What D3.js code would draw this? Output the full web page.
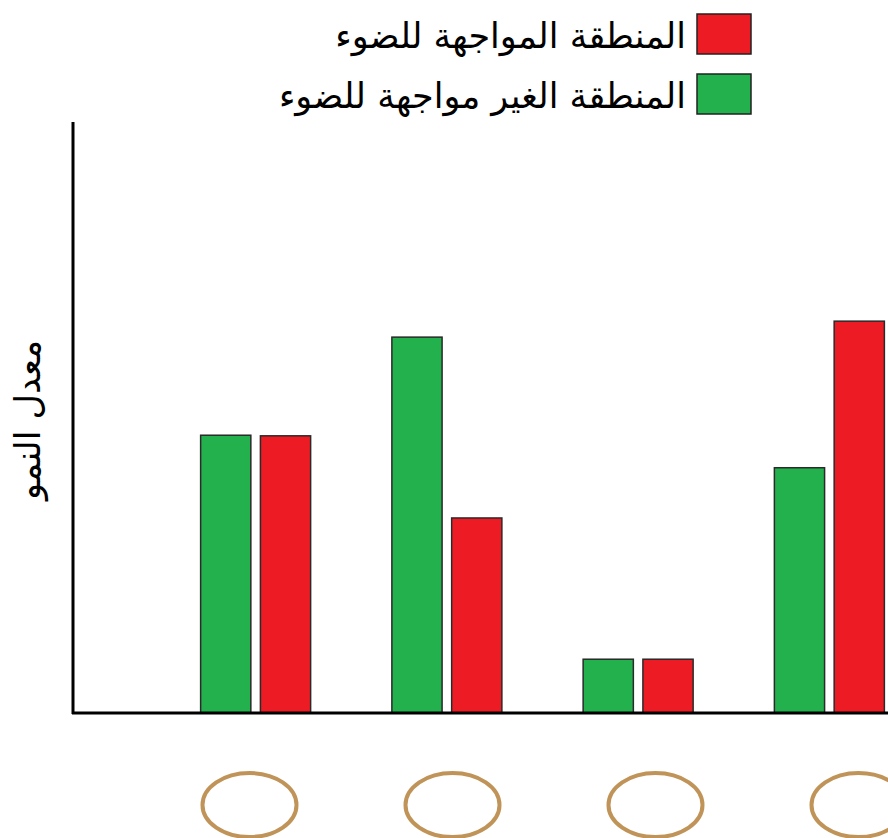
<!DOCTYPE html>
<html><head><meta charset="utf-8">
<script src="https://cdn.jsdelivr.net/npm/d3@7"></script>
<style>html,body{margin:0;padding:0;background:#fff;}svg{display:block;}</style>
</head><body>
<script>
const categories = ["1", "2", "3", "4"];
const seriesKeys = ["shaded", "lit"];
const seriesLabels = ["المنطقة الغير مواجهة للضوء", "المنطقة المواجهة للضوء"];
const shadedValues = [4.70, 6.36, 0.91, 4.15];
const litValues = [4.69, 3.30, 0.91, 6.63];
const yLabel = "معدل النمو";

const W = 888, H = 838;
const colors = {shaded: "#22b14c", lit: "#ed1c24"};
const rows = categories.map((c, i) => ({cat: c, shaded: shadedValues[i], lit: litValues[i]}));

const svg = d3.select("body").append("svg").attr("width", W).attr("height", H);

const x0 = d3.scaleBand().domain(categories).range([160, 925]).paddingInner(0).paddingOuter(0);
const xLab = d3.scaleBand().domain(categories).range([148, 960]).paddingInner(0).paddingOuter(0);
const x1 = d3.scaleBand().domain(seriesKeys).range([0, 110]).paddingInner(0.16);
const y = d3.scaleLinear().domain([0, 10]).range([713, 122]);

const g = svg.append("g");
rows.forEach(r => {
  const gx = x0(r.cat) + x0.bandwidth() / 2 - 55;
  seriesKeys.forEach(k => {
    g.append("rect")
      .attr("x", gx + x1(k))
      .attr("y", y(r[k]))
      .attr("width", x1.bandwidth())
      .attr("height", y(0) - y(r[k]))
      .attr("fill", colors[k])
      .attr("stroke", "#2a2a2a")
      .attr("stroke-width", 1.5);
  });
  svg.append("ellipse")
    .attr("cx", xLab(r.cat) + xLab.bandwidth() / 2)
    .attr("cy", 805)
    .attr("rx", 47)
    .attr("ry", 32)
    .attr("fill", "none")
    .attr("stroke", "#c09458")
    .attr("stroke-width", 4);
});

svg.append("line").attr("x1", 73).attr("x2", 73).attr("y1", 122).attr("y2", 714)
  .attr("stroke", "#000").attr("stroke-width", 3);
svg.append("line").attr("x1", 72).attr("x2", W).attr("y1", 713).attr("y2", 713)
  .attr("stroke", "#000").attr("stroke-width", 3);

svg.append("text")
  .attr("transform", "translate(40,420) rotate(-90)")
  .attr("text-anchor", "middle")
  .attr("direction", "rtl")
  .attr("font-family", "DejaVu Sans, Noto Sans, sans-serif")
  .attr("font-size", 35)
  .attr("fill", "#000")
  .text(yLabel);

const legendItems = [
  {key: "lit", label: seriesLabels[1]},
  {key: "shaded", label: seriesLabels[0]}
];
legendItems.forEach((it, i) => {
  const ly = 14 + i * 60;
  svg.append("rect").attr("x", 697).attr("y", ly).attr("width", 54).attr("height", 40)
    .attr("fill", colors[it.key]).attr("stroke", "#222").attr("stroke-width", 1.5);
  svg.append("text")
    .attr("x", 686).attr("y", ly + 34)
    .attr("text-anchor", "start")
    .attr("direction", "rtl")
    .attr("font-family", "DejaVu Sans, Noto Sans, sans-serif")
    .attr("font-size", 35)
    .attr("fill", "#000")
    .text(it.label);
});
</script>
</body></html>
